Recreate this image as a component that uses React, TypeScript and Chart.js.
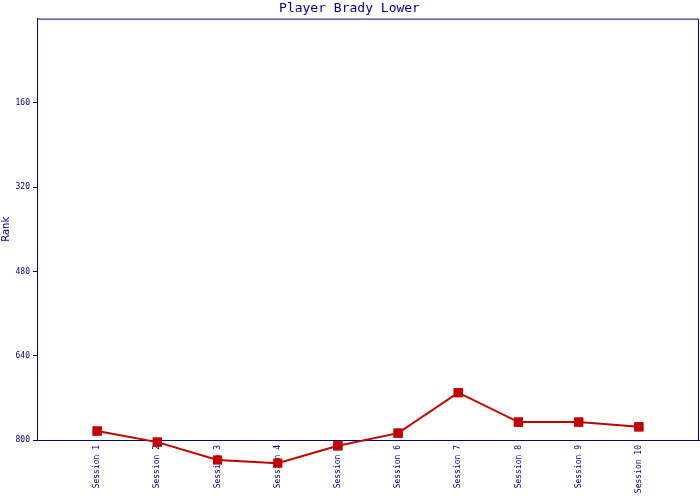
import React, { useEffect, useRef } from "react";
import { Chart, registerables } from "chart.js";

Chart.register(...registerables);

const categories = ["", "Session 1", "Session 2", "Session 3", "Session 4", "Session 5", "Session 6", "Session 7", "Session 8", "Session 9", "Session 10", ""];
const rankValues = [null, 783, 804, 838, 844, 811, 787, 710, 766, 766, 775, null];
const yTicks = [0, 160, 320, 480, 640, 800];

const NAVY = "#000080";
const RED = "#c00000";

const frame = {
  id: "frame",
  beforeDatasetsDraw(chart: any) {
    const { ctx, chartArea } = chart;
    ctx.save();
    ctx.strokeStyle = NAVY;
    ctx.lineWidth = 1;
    ctx.beginPath();
    ctx.moveTo(chartArea.left, chartArea.top + 0.5);
    ctx.lineTo(chartArea.right - 0.5, chartArea.top + 0.5);
    ctx.lineTo(chartArea.right - 0.5, chartArea.bottom);
    ctx.stroke();
    ctx.restore();
  },
  afterDraw(chart: any) {
    const ctx = chart.ctx;
    const meta = chart.getDatasetMeta(0);
    ctx.save();
    meta.data.forEach((p: any) => {
      if (!p.skip) p.draw(ctx);
    });
    ctx.restore();
  },
};

export default function App() {
  const ref = useRef<HTMLCanvasElement>(null);
  useEffect(() => {
    document.body.style.margin = "0";
    const chart = new Chart(ref.current!, {
      type: "line",
      data: {
        labels: categories,
        datasets: [
          {
            data: rankValues,
            borderColor: RED,
            backgroundColor: RED,
            borderWidth: 2,
            pointStyle: "rect",
            pointRadius: 6.5,
            pointHoverRadius: 6.5,
            pointBorderWidth: 0,
            tension: 0,
            clip: false as any,
          },
        ],
      },
      options: {
        animation: false,
        responsive: false,
        layout: { autoPadding: false, padding: { top: 0, right: 1, left: 0, bottom: 0 } },
        plugins: {
          legend: { display: false },
          tooltip: { enabled: false },
          title: {
            display: true,
            text: "Player Brady Lower",
            color: NAVY,
            font: { family: "DejaVu Sans Mono", size: 13, weight: "normal" },
            padding: { top: 1, bottom: 2 },
          },
        },
        scales: {
          x: {
            offset: false,
            grid: { display: false, drawTicks: false, z: -1 },
            border: { display: true, color: NAVY, width: 1, z: -1 } as any,
            ticks: {
              color: NAVY,
              font: { family: "DejaVu Sans Mono", size: 8 },
              minRotation: 90,
              maxRotation: 90,
              autoSkip: false,
              padding: 5,
              z: -1,
            },
            afterFit(scale: any) {
              scale.height = 60;
              scale.paddingLeft = 0;
              scale.paddingRight = 0;
            },
          },
          y: {
            reverse: true,
            min: 0,
            max: 800,
            afterBuildTicks(scale: any) {
              scale.ticks = yTicks.map((v) => ({ value: v }));
            },
            grid: {
              display: true,
              drawOnChartArea: false,
              drawTicks: true,
              tickLength: 4,
              z: -1,
              color: (c: any) => (c.tick && c.tick.value === 0 ? "rgba(0,0,0,0)" : NAVY),
            },
            border: { display: true, color: NAVY, width: 1, z: -1 } as any,
            ticks: {
              color: NAVY,
              font: { family: "DejaVu Sans Mono", size: 8 },
              padding: 3,
              z: -1,
              callback: (v: any) => (v === 0 ? "" : String(v)),
            },
            title: {
              display: true,
              text: "Rank",
              color: NAVY,
              font: { family: "DejaVu Sans", size: 10 },
              padding: { top: 0, bottom: 0 },
            },
            afterFit(scale: any) {
              scale.width = 37;
              scale.paddingTop = 0;
              scale.paddingBottom = 0;
            },
          },
        },
      },
      plugins: [frame],
    });
    return () => chart.destroy();
  }, []);
  return <canvas ref={ref} width={700} height={500} style={{ display: "block" }} />;
}
